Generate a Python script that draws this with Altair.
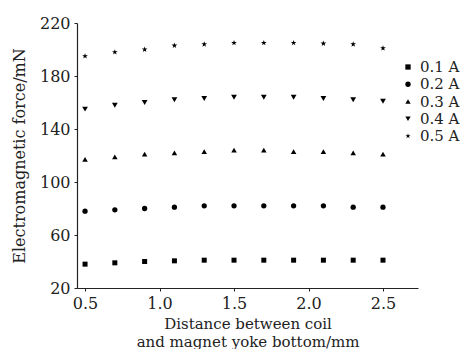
import altair as alt
import pandas as pd

distance = [0.5, 0.7, 0.9, 1.1, 1.3, 1.5, 1.7, 1.9, 2.1, 2.3, 2.5]
currents = ["0.1 A", "0.2 A", "0.3 A", "0.4 A", "0.5 A"]
force_01 = [38, 39, 40, 40.5, 41, 41, 41, 41, 41, 41, 41]
force_02 = [78, 79, 80, 81, 82, 82, 82, 82, 82, 81, 81]
force_03 = [117, 119, 121, 122, 123, 124, 124, 123, 123, 122, 121]
force_04 = [155, 158, 160, 162, 163, 164, 164, 164, 163, 162, 161]
force_05 = [195, 198, 200, 203, 204, 205, 205, 205, 204.5, 204, 201]
x_ticks = [0.5, 1.0, 1.5, 2.0, 2.5]
y_ticks = [20, 60, 100, 140, 180, 220]

series = [force_01, force_02, force_03, force_04, force_05]
rows = []
for cur, vals in zip(currents, series):
    for d, v in zip(distance, vals):
        rows.append({"distance": d, "force": v, "current": cur, "cur_size": cur})
df = pd.DataFrame(rows)
legend_df = pd.DataFrame({"current": currents})

FONT = "DejaVu Serif"
STAR = "M0,-1L0.235,-0.324L0.951,-0.309L0.38,0.124L0.588,0.809L0,0.4L-0.588,0.809L-0.38,0.124L-0.951,-0.309L-0.235,-0.324Z"
shape_scale = alt.Scale(domain=currents,
                        range=["square", "circle", "triangle-up", "triangle-down", STAR])
legend_rows = alt.Scale(type="point", domain=currents, range=[44, 113], padding=0)

points = alt.Chart(df).mark_point(filled=True, opacity=1, color="black").encode(
    x=alt.X("distance:Q", scale=alt.Scale(domain=[0.446, 2.735], nice=False, zero=False),
            axis=alt.Axis(values=x_ticks, format=".1f", tickSize=3,
                          title=["Distance between coil", "and magnet yoke bottom/mm"],
                          labelPadding=4, titlePadding=5, titleLineHeight=18,
                          titleFontSize=15)),
    y=alt.Y("force:Q", scale=alt.Scale(domain=[20, 220], nice=False),
            axis=alt.Axis(values=y_ticks, tickSize=3, title="Electromagnetic force/mN",
                          labelPadding=4, titlePadding=12)),
    shape=alt.Shape("current:N", scale=shape_scale, legend=None),
    size=alt.Size("cur_size:N", scale=alt.Scale(domain=currents, range=[25, 36, 40, 40, 45]),
                  legend=None),
)

leg_pts = alt.Chart(legend_df).mark_point(filled=True, opacity=1, color="black", size=28).encode(
    x=alt.value(331),
    y=alt.Y("current:N", scale=legend_rows, axis=None),
    shape=alt.Shape("current:N", scale=shape_scale, legend=None),
)

leg_txt = alt.Chart(legend_df).mark_text(
    align="left", baseline="middle", font=FONT, fontSize=15, color="#222"
).encode(
    x=alt.value(343),
    y=alt.Y("current:N", scale=legend_rows, axis=None),
    text=alt.Text("current:N"),
)

chart = alt.layer(points, leg_pts, leg_txt).resolve_scale(y="independent").properties(
    width=341, height=265,
    padding={"left": 3, "top": 7, "right": 0, "bottom": 0},
).configure_view(stroke=None).configure_axis(
    labelFont=FONT, titleFont=FONT, labelFontSize=16, titleFontSize=16,
    labelColor="#222", titleColor="#222", domainColor="#222", tickColor="#222",
    grid=False, titleFontWeight="normal", domainWidth=1.2,
)

chart.save("out.html", embed_options={"renderer": "svg", "actions": False})
